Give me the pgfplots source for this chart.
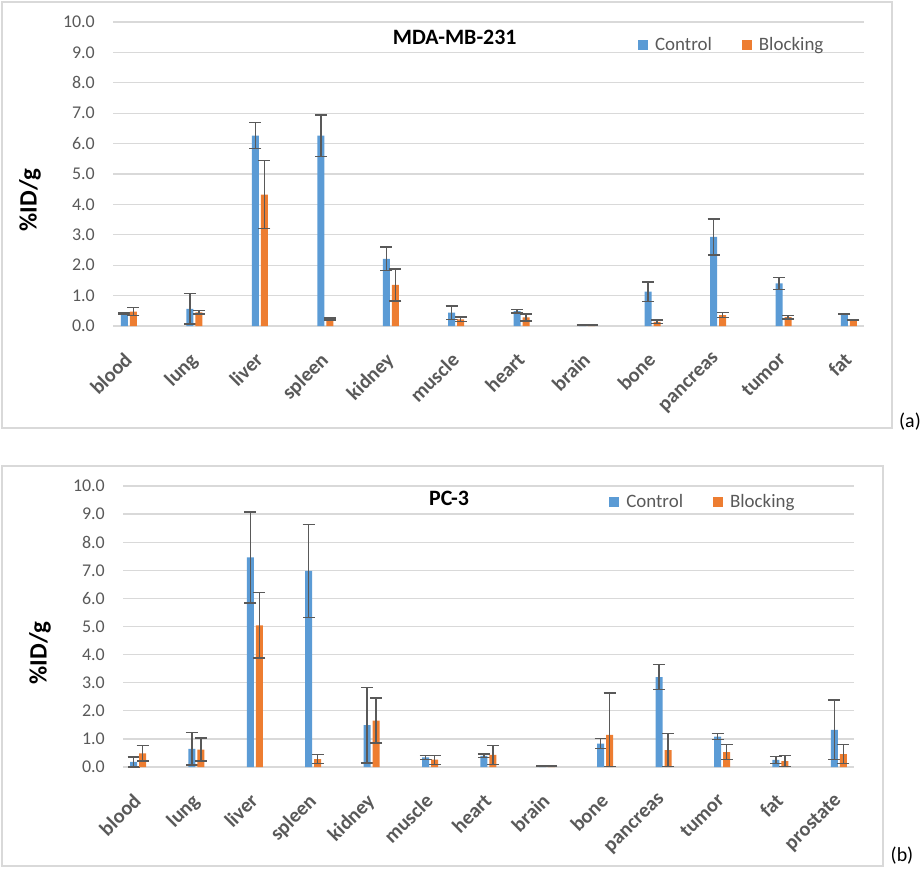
\documentclass[border=0pt]{standalone}
\usepackage{fontspec}
\setmainfont{Carlito}
\usepackage{pgfplots}
\usepackage{pgfplotstable}
\pgfplotsset{compat=1.18}
\definecolor{ctrl}{HTML}{5B9BD5}
\definecolor{blk}{HTML}{ED7D31}
\definecolor{errc}{HTML}{595959}
\definecolor{txt}{HTML}{595959}
\definecolor{grd}{HTML}{D9D9D9}

\pgfplotstableread{
x c cp cm b bp bm
0 0.42 0.03 0.03 0.47 0.13 0.13
1 0.56 0.50 0.50 0.45 0.06 0.06
2 6.26 0.43 0.43 4.32 1.12 1.12
3 6.26 0.68 0.68 0.23 0.03 0.03
4 2.21 0.39 0.39 1.35 0.53 0.53
5 0.44 0.22 0.22 0.22 0.08 0.08
6 0.49 0.06 0.06 0.28 0.11 0.11
7 0.03 0.01 0.01 0.02 0.01 0.01
8 1.13 0.32 0.32 0.14 0.06 0.06
9 2.93 0.59 0.59 0.36 0.08 0.08
10 1.40 0.19 0.19 0.29 0.06 0.06
11 0.38 0.01 0.01 0.19 0.01 0.01
}\topdata

\pgfplotstableread{
x c cp cm b bp bm
0 0.18 0.18 0.18 0.49 0.28 0.28
1 0.65 0.58 0.58 0.62 0.41 0.41
2 7.46 1.62 1.62 5.04 1.16 1.16
3 6.98 1.65 1.65 0.28 0.16 0.16
4 1.49 1.34 1.34 1.65 0.80 0.80
5 0.34 0.08 0.08 0.26 0.16 0.16
6 0.40 0.07 0.07 0.43 0.33 0.33
7 0.03 0.01 0.01 0.02 0.01 0.01
8 0.83 0.18 0.18 1.14 1.50 1.12
9 3.20 0.45 0.45 0.60 0.59 0.59
10 1.08 0.11 0.11 0.53 0.27 0.27
11 0.25 0.13 0.13 0.21 0.20 0.20
12 1.32 1.06 1.06 0.46 0.34 0.34
}\botdata

\pgfplotsset{
 mystyle/.style={
  scale only axis, ymin=0, ymax=10, ytick={0,1,...,10}, ymajorgrids,
  grid style={grd, line width=1.3bp},
  axis line style={draw=none}, major tick length=0pt,
  /pgf/number format/assume math mode=true,
  yticklabel style={/pgf/number format/fixed, /pgf/number format/fixed zerofill,
    /pgf/number format/precision=1, anchor=east, inner sep=0pt, xshift=-18bp,
    font=\fontsize{18}{20}\selectfont, text=txt},
  xtick={0,...,12},
  xticklabel style={xshift=-6bp, rotate=45, anchor=north east, inner sep=0pt,
    font=\bfseries\fontsize{20.5}{22}\selectfont, text=txt},
  xticklabel shift=25bp,
  ybar, bar width=7bp, clip=false,
  legend style={draw=none, fill=none, legend columns=2, anchor=west,
    font=\fontsize{19}{21}\selectfont, text=txt, inner sep=0pt,
    /tikz/every odd column/.append style={column sep=5bp},
    /tikz/every even column/.append style={column sep=28bp}},
  ylabel style={rotate=0, font=\bfseries\fontsize{25}{27}\selectfont, text=black},
 },
 ctrlbar/.style={fill=ctrl, draw=none, bar shift=-4.5bp,
   error bars/.cd, y dir=both, y explicit,
   error bar style={errc, line width=1.4bp},
   error mark options={rotate=90, errc, mark size=6bp, line width=1.4bp}},
 blkbar/.style={fill=blk, draw=none, bar shift=4.5bp,
   error bars/.cd, y dir=both, y explicit,
   error bar style={errc, line width=1.4bp},
   error mark options={rotate=90, errc, mark size=6bp, line width=1.4bp}},
}

\begin{document}
\begin{tikzpicture}[x=1bp,y=1bp]
\useasboundingbox (0,0) rectangle (921,-870);
\draw[grd, line width=1.3bp] (2,-2) rectangle (892,-428);
\draw[grd, line width=1.3bp] (2,-466) rectangle (883,-866);
\node[font=\fontsize{20}{22}\selectfont] at (910,-422) {(a)};
\node[font=\fontsize{20}{22}\selectfont] at (902,-856) {(b)};

\begin{axis}[mystyle,
  at={(113bp,-326bp)}, anchor=south west, width=751bp, height=304bp,
  xmin=-0.244, xmax=11.23,
  xticklabels={blood,lung,liver,spleen,kidney,muscle,heart,brain,bone,pancreas,tumor,fat},
  ylabel={\%ID/g},
  ylabel style={at={(axis description cs:-0.1105,0.414)}, anchor=center},
  legend style={at={(axis description cs:0.699,0.924)}},
  legend image code/.code={\fill[#1] (0bp,-5bp) rectangle (10bp,5bp);},
  title={\textbf{MDA-MB-231}},
  title style={at={(axis description cs:0.455,0.931)}, anchor=center, font=\bfseries\fontsize{22}{24}\selectfont},
]
\addplot[ctrlbar] table[x=x, y=c, y error plus=cp, y error minus=cm] {\topdata};
\addplot[blkbar] table[x=x, y=b, y error plus=bp, y error minus=bm] {\topdata};
\legend{Control, Blocking}
\end{axis}

\begin{axis}[mystyle,
  at={(123bp,-767bp)}, anchor=south west, width=731bp, height=281bp,
  xmin=-0.257, xmax=12.26,
  xticklabels={blood,lung,liver,spleen,kidney,muscle,heart,brain,bone,pancreas,tumor,fat,prostate},
  ylabel={\%ID/g},
  ylabel style={at={(axis description cs:-0.1135,0.406)}, anchor=center},
  legend style={at={(axis description cs:0.665,0.943)}},
  legend image code/.code={\fill[#1] (0bp,-5bp) rectangle (10bp,5bp);},
  title={\textbf{PC-3}},
  title style={at={(axis description cs:0.446,0.936)}, anchor=center, font=\bfseries\fontsize{22}{24}\selectfont},
]
\addplot[ctrlbar] table[x=x, y=c, y error plus=cp, y error minus=cm] {\botdata};
\addplot[blkbar] table[x=x, y=b, y error plus=bp, y error minus=bm] {\botdata};
\legend{Control, Blocking}
\end{axis}
\end{tikzpicture}
\end{document}
